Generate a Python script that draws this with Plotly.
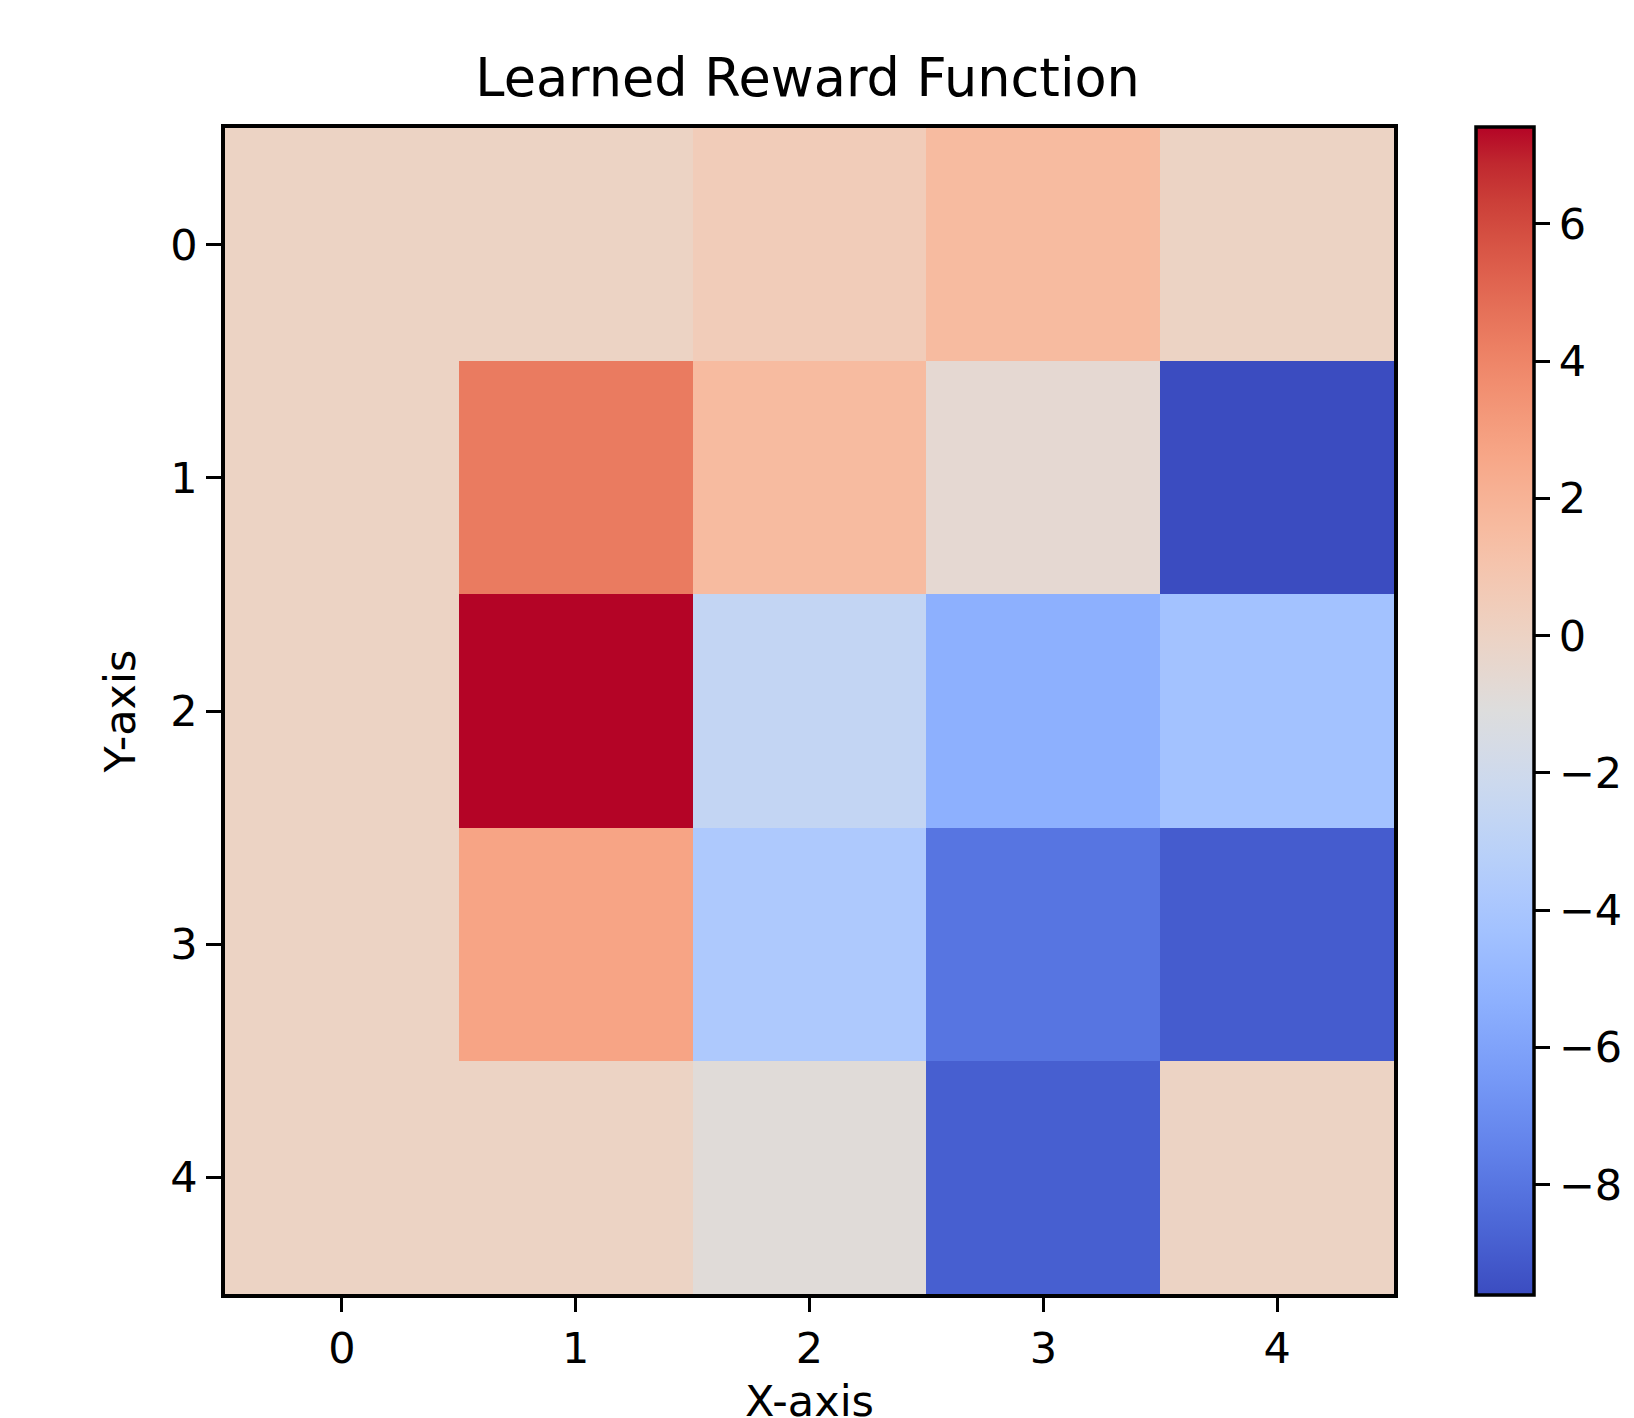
import plotly.graph_objects as go

# Data
x_labels = [0, 1, 2, 3, 4]
y_labels = [0, 1, 2, 3, 4]
row0 = [0.0, 0.0, 0.5, 1.55, 0.0]
row1 = [0.0, 4.35, 1.55, -0.6, -9.61]
row2 = [0.0, 7.41, -2.65, -5.35, -4.3]
row3 = [0.0, 2.7, -3.75, -8.0, -9.0]
row4 = [0.0, 0.0, -0.9, -8.9, 0.0]
z = [row0, row1, row2, row3, row4]

cb_ticks = [-8, -6, -4, -2, 0, 2, 4, 6]

# matplotlib-like coolwarm (Moreland) colorscale
cw = [
    (59, 76, 192), (68, 90, 204), (77, 104, 215), (87, 117, 225), (98, 130, 234),
    (108, 142, 241), (119, 154, 247), (130, 165, 251), (141, 176, 254), (152, 185, 255),
    (163, 194, 255), (174, 201, 253), (184, 208, 249), (194, 213, 244), (204, 217, 238),
    (213, 219, 230), (221, 221, 221), (229, 216, 209), (236, 211, 197), (241, 204, 185),
    (245, 196, 173), (247, 187, 160), (247, 177, 148), (247, 166, 135), (244, 154, 123),
    (241, 141, 111), (236, 127, 99), (229, 112, 88), (222, 96, 77), (213, 80, 66),
    (203, 62, 56), (192, 40, 47), (180, 4, 38),
]
n = len(cw) - 1
colorscale = [[i / n, "rgb(%d,%d,%d)" % c] for i, c in enumerate(cw)]

# page body has an 8px margin, so the figure is laid out in its own coordinates
OFF = 8
W, H = 1634 - OFF, 1418 - OFF
L, R, T, B = 225 - OFF, 1394 - OFF, 128 - OFF, 1294 - OFF
CB_LEFT = 1475.5 - OFF
XTITLE_Y = 1401 - OFF
font = "DejaVu Sans"

fig = go.Figure(
    go.Heatmap(
        z=z,
        x=x_labels,
        y=y_labels,
        colorscale=colorscale,
        zmin=-9.61,
        zmax=7.41,
        colorbar=dict(
            x=(CB_LEFT - L) / (R - L),
            xanchor="left",
            xpad=0,
            ypad=0,
            y=0.5,
            yanchor="middle",
            lenmode="pixels",
            len=B - T + 2,
            thickness=58,
            outlinewidth=3.5,
            outlinecolor="black",
            tickvals=cb_ticks,
            ticks="outside",
            ticklen=15,
            tickwidth=3,
            tickcolor="black",
            tickfont=dict(family=font, size=43, color="black"),
        ),
    )
)

fig.update_layout(
    width=W,
    height=H,
    margin=dict(l=L, r=W - R, t=T, b=H - B, autoexpand=False),
    paper_bgcolor="white",
    plot_bgcolor="white",
    title=dict(
        text="Learned Reward Function",
        x=(807.6 - OFF) / W,
        xanchor="center",
        y=1 - (78 - OFF) / H,
        yanchor="middle",
        font=dict(family=font, size=52.5, color="black"),
    ),
    xaxis=dict(
        range=[-0.5, 4.5],
        tickvals=x_labels,
        ticks="outside",
        ticklen=14,
        tickwidth=3,
        tickcolor="black",
        showline=True,
        linewidth=3.5,
        linecolor="black",
        mirror=True,
        showgrid=False,
        zeroline=False,
        automargin=False,
        tickfont=dict(family=font, size=43, color="black"),
    ),
    yaxis=dict(
        range=[4.5, -0.5],
        tickvals=y_labels,
        ticks="outside",
        ticklen=15,
        tickwidth=3,
        tickcolor="black",
        showline=True,
        linewidth=3.5,
        linecolor="black",
        mirror=True,
        showgrid=False,
        zeroline=False,
        automargin=False,
        tickfont=dict(family=font, size=43, color="black"),
        title=dict(text="Y-axis", font=dict(family=font, size=43, color="black"), standoff=22),
    ),
    annotations=[
        dict(
            text="X-axis",
            xref="paper",
            yref="paper",
            x=0.5,
            y=-(XTITLE_Y - B) / (B - T),
            xanchor="center",
            yanchor="middle",
            showarrow=False,
            font=dict(family=font, size=43, color="black"),
        )
    ],
)

fig.write_html("out.html")
